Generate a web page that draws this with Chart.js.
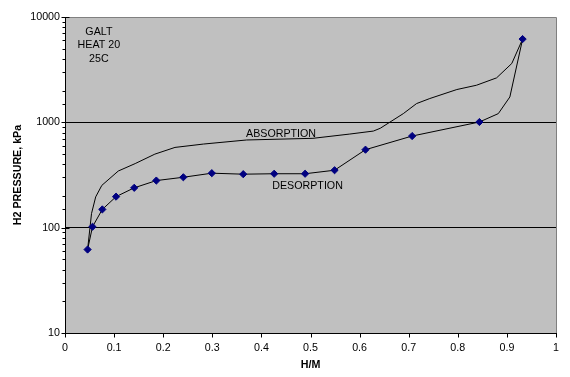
<!DOCTYPE html>
<html>
<head>
<meta charset="utf-8">
<script src="https://cdn.jsdelivr.net/npm/chart.js@4.4.1/dist/chart.umd.min.js"></script>
<style>
  html, body { margin: 0; padding: 0; background: #fff; }
  #wrap { width: 570px; height: 377px; }
</style>
</head>
<body>
<div id="wrap"><canvas id="galtChart" width="570" height="377"></canvas></div>
<script>
// --- datos ---
const absH = [0.046, 0.054, 0.0625, 0.075, 0.1085, 0.143, 0.183, 0.224, 0.282, 0.37, 0.505, 0.58, 0.628, 0.642, 0.689, 0.716, 0.743, 0.798, 0.838, 0.879, 0.91, 0.932];
const absP = [62, 136, 196, 252, 345, 406, 499, 578, 622, 680, 705, 774, 826, 878, 1210, 1507, 1683, 2048, 2250, 2643, 3622, 6170];

const desH = [0.046, 0.056, 0.076, 0.104, 0.141, 0.186, 0.241, 0.299, 0.363, 0.426, 0.489, 0.549, 0.612, 0.707, 0.844, 0.8825, 0.906, 0.932];
const desP = [62, 102, 149, 197, 239, 280, 301, 329, 322, 325, 325, 351, 550, 741, 1007, 1210, 1741, 6170];
// 1 = punto con marcador, 0 = solo linea
const desMarked = [1, 1, 1, 1, 1, 1, 1, 1, 1, 1, 1, 1, 1, 1, 1, 0, 0, 1];

const xTicks = [0, 0.1, 0.2, 0.3, 0.4, 0.5, 0.6, 0.7, 0.8, 0.9, 1];
const yLabels = [10, 100, 1000, 10000];

const notes = [
    { text: ['GALT', 'HEAT 20', '25C'], x: 0.069, y: 7200 },
    { text: ['ABSORPTION'], x: 0.44, y: 780 },
    { text: ['DESORPTION'], x: 0.494, y: 246 }
];

const FONT = 'Liberation Sans, Arial, sans-serif';
const FSIZE = 10.7;

const toPts = (xs, ys) => xs.map((x, i) => ({ x: x, y: ys[i] }));
const isPow10 = v => Math.abs(Math.log10(v) - Math.round(Math.log10(v))) < 1e-9;

const plotPlugin = {
    id: 'plotDeco',
    beforeDraw(chart) {
        const { ctx, chartArea: a } = chart;
        ctx.save();
        ctx.fillStyle = '#fff';
        ctx.fillRect(0, 0, chart.width, chart.height);
        ctx.fillStyle = '#C0C0C0';
        ctx.fillRect(a.left, a.top, a.right - a.left, a.bottom - a.top);
        ctx.restore();
    },
    afterDraw(chart) {
        const { ctx, chartArea: a } = chart;
        const xs = chart.scales.x, ys = chart.scales.y;
        ctx.save();
        // borde gris arriba y derecha
        ctx.strokeStyle = '#808080';
        ctx.lineWidth = 1;
        ctx.beginPath();
        ctx.moveTo(a.left, Math.round(a.top) + 0.5);
        ctx.lineTo(Math.round(a.right) + 0.5, Math.round(a.top) + 0.5);
        ctx.lineTo(Math.round(a.right) + 0.5, a.bottom);
        ctx.stroke();

        // marcas de los ejes
        ctx.strokeStyle = '#000';
        ctx.beginPath();
        const lx = Math.round(a.left) + 0.5;
        ys.ticks.forEach(t => {
            const py = Math.round(ys.getPixelForValue(t.value)) + 0.5;
            if (isPow10(t.value)) {
                ctx.moveTo(lx - 4, py); ctx.lineTo(lx + 4, py);
            } else {
                ctx.moveTo(lx - 3, py); ctx.lineTo(lx, py);
            }
        });
        const by = Math.round(a.bottom) + 0.5;
        xs.ticks.forEach(t => {
            const px = Math.round(xs.getPixelForValue(t.value)) + 0.5;
            ctx.moveTo(px, by); ctx.lineTo(px, by + 4);
        });
        ctx.stroke();

        // textos
        ctx.fillStyle = '#000';
        ctx.font = FSIZE + 'px ' + FONT;
        ctx.textAlign = 'center';
        ctx.textBaseline = 'middle';
        notes.forEach(n => {
            const px = xs.getPixelForValue(n.x);
            const py = ys.getPixelForValue(n.y);
            n.text.forEach((s, i) => ctx.fillText(s, px, py + i * 13.3));
        });
        ctx.restore();
    }
};

const chart = new Chart(document.getElementById('galtChart').getContext('2d'), {
    type: 'scatter',
    data: {
        datasets: [
            {
                label: 'DESORPTION', data: toPts(desH, desP), showLine: true,
                borderColor: '#000', borderWidth: 1, tension: 0,
                pointStyle: 'rectRot',
                pointRadius: desMarked.map(m => m ? 3.6 : 0),
                pointBackgroundColor: '#000080', pointBorderColor: '#000080', pointBorderWidth: 1
            },
            {
                label: 'ABSORPTION', data: toPts(absH, absP), showLine: true,
                borderColor: '#000', borderWidth: 1, tension: 0, pointRadius: 0
            }
        ]
    },
    options: {
        responsive: false, animation: false, devicePixelRatio: 1,
        layout: { padding: { left: 0, right: 14, top: 17, bottom: 0 } },
        plugins: { legend: { display: false }, tooltip: { enabled: false } },
        scales: {
            x: {
                type: 'linear', min: 0, max: 1,
                afterBuildTicks: s => { s.ticks = xTicks.map(v => ({ value: v })); },
                afterFit: s => { s.height = 44; },
                ticks: {
                    color: '#000', padding: 9, maxRotation: 0,
                    font: { family: FONT, size: FSIZE },
                    callback: v => String(Number(v.toFixed(1)))
                },
                grid: { drawTicks: false, color: 'rgba(0,0,0,0)' },
                border: { color: '#000', width: 1 },
                title: {
                    display: true, text: 'H/M', color: '#000',
                    font: { family: FONT, size: FSIZE, weight: 'bold' },
                    padding: { top: 5.5, bottom: 5.5 }
                }
            },
            y: {
                type: 'logarithmic', min: 10, max: 10000,
                afterFit: s => { s.width = 65; },
                ticks: {
                    color: '#000', padding: 5, autoSkip: false,
                    font: { family: FONT, size: FSIZE },
                    callback: v => yLabels.includes(v) ? String(v) : ''
                },
                grid: {
                    drawTicks: false, lineWidth: 1,
                    color: c => (c.tick && (c.tick.value === 100 || c.tick.value === 1000)) ? '#000' : 'rgba(0,0,0,0)'
                },
                border: { color: '#000', width: 1 },
                title: {
                    display: true, text: 'H2 PRESSURE, kPa', color: '#000',
                    font: { family: FONT, size: FSIZE, weight: 'bold' },
                    padding: { top: 11.5, bottom: 11.5 }
                }
            }
        }
    },
    plugins: [plotPlugin]
});
</script>
</body>
</html>
